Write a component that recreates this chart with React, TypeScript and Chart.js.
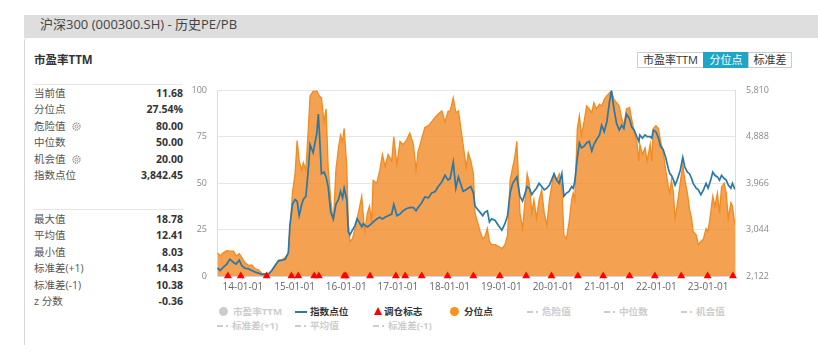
import React, { useEffect, useRef } from 'react';
import { Chart, registerables } from 'chart.js';

Chart.register(...registerables);

const FONT = '"Open Sans", "Noto Sans CJK SC", sans-serif';

// ---- data (decimal years) ----
const dates = [
  2013.51, 2013.56, 2013.62, 2013.69, 2013.75, 2013.82, 2013.87, 2013.93, 2013.98,
  2014.04, 2014.11, 2014.17, 2014.24, 2014.30, 2014.36, 2014.43, 2014.49, 2014.56, 2014.62, 2014.69, 2014.75, 2014.82, 2014.88, 2014.91, 2014.96,
  2015.01, 2015.05, 2015.09, 2015.14, 2015.17, 2015.22, 2015.27, 2015.30, 2015.36, 2015.43, 2015.46, 2015.48, 2015.52, 2015.57, 2015.61, 2015.65, 2015.70, 2015.75, 2015.80, 2015.85, 2015.89, 2015.93, 2015.96,
  2016.01, 2016.04, 2016.07, 2016.12, 2016.17, 2016.21, 2016.25, 2016.30, 2016.33, 2016.36, 2016.41, 2016.45, 2016.49, 2016.52, 2016.59, 2016.65, 2016.70, 2016.75, 2016.81, 2016.88, 2016.92, 2016.98,
  2017.04, 2017.10, 2017.17, 2017.23, 2017.30, 2017.35, 2017.39, 2017.46, 2017.52, 2017.59, 2017.65, 2017.72, 2017.78, 2017.85, 2017.91, 2017.97,
  2018.01, 2018.07, 2018.12, 2018.17, 2018.21, 2018.26, 2018.32, 2018.36, 2018.41, 2018.46, 2018.49, 2018.54, 2018.59, 2018.64, 2018.68, 2018.73, 2018.77, 2018.81, 2018.88, 2018.94,
  2019.01, 2019.07, 2019.12, 2019.17, 2019.22, 2019.26, 2019.30, 2019.33, 2019.36, 2019.41, 2019.46, 2019.50, 2019.54, 2019.59, 2019.63, 2019.68, 2019.73, 2019.78, 2019.83, 2019.88, 2019.93, 2019.97,
  2020.02, 2020.07, 2020.12, 2020.17, 2020.21, 2020.26, 2020.31, 2020.36, 2020.39, 2020.42, 2020.47, 2020.51, 2020.55, 2020.60, 2020.65, 2020.70, 2020.75, 2020.79, 2020.84, 2020.90, 2020.94, 2020.99,
  2021.04, 2021.09, 2021.13, 2021.18, 2021.23, 2021.28, 2021.33, 2021.37, 2021.42, 2021.48, 2021.52, 2021.57, 2021.62, 2021.66, 2021.68, 2021.73, 2021.78, 2021.82, 2021.88, 2021.91, 2021.94, 2021.99,
  2022.04, 2022.08, 2022.13, 2022.18, 2022.23, 2022.26, 2022.29, 2022.33, 2022.36, 2022.40, 2022.46, 2022.51, 2022.55, 2022.60, 2022.64, 2022.68, 2022.71, 2022.77, 2022.81, 2022.86, 2022.91, 2022.96,
  2023.00, 2023.05, 2023.09, 2023.13, 2023.18, 2023.22, 2023.26, 2023.31, 2023.35, 2023.39, 2023.44, 2023.47, 2023.52,
];

// 分位点 (%)
const percentile = [
  12.5, 10.8, 12.5, 13.7, 13.4, 13.4, 10.8, 12.0, 9.9,
  7.3, 5.6, 6.0, 3.8, 3.3, 1.6, 1.2, 1.2, 3.0, 5.6, 8.5, 8.5, 10.0, 12.5, 24, 45,
  55, 73, 62, 57, 61, 57, 81, 97, 99.5, 100, 98, 97, 96, 83, 90, 59, 41, 29, 57, 69, 76, 72.5, 79.5,
  59, 29, 18.6, 20, 25.6, 31, 36, 43, 32.5, 24, 34, 37.7, 29, 51.6, 50, 57, 65.5, 59, 65.5, 62, 75, 60,
  72.5, 70.8, 73.4, 77, 70.8, 57, 67, 74, 80, 81, 83, 85.6, 87.3, 89, 83, 88.7,
  89, 96, 88, 89, 81, 71, 58.6, 66.4, 62, 55, 34, 29, 24, 20, 21, 25.6, 18.6, 16.9, 16.9, 16,
  14.8, 16.9, 22, 51.6, 58.6, 64, 72.5, 53.4, 34, 25.6, 41, 55, 50, 34, 41, 31, 41, 46.4, 34, 27.3, 41, 48,
  55, 51.6, 55, 48, 22, 20, 29, 41, 44.7, 41, 79.5, 86.4, 76, 83, 91.6, 90, 88, 93.4, 90, 92.5, 91.6, 95,
  97, 98.6, 99.5, 95, 93.4, 91.6, 84.7, 81, 90, 90.8, 84.7, 77.7, 72.5, 62, 71, 65.5, 69, 62, 71, 62, 79.5, 81,
  79.5, 72.5, 67, 57, 48, 44.7, 51.6, 44.7, 31, 37.7, 50, 60, 51.6, 44.7, 36, 31, 24, 22, 16.9, 18.6, 20, 25.6,
  24, 34, 43, 37.7, 44.7, 34, 48, 50, 44.7, 31, 39.5, 37.7, 27.5,
];

// 指数点位
const indexPoints = [
  2282, 2231, 2295, 2359, 2456, 2391, 2359, 2436, 2327,
  2276, 2263, 2231, 2199, 2180, 2154, 2154, 2148, 2231, 2327, 2424, 2436, 2456, 2584, 3129, 3546,
  3642, 3610, 3321, 3546, 3642, 3706, 4283, 4733, 4572, 4957, 5342, 4989, 4155, 4187, 4091, 3899, 3386, 3257, 3546, 3642, 3803, 3674, 3867,
  3642, 3001, 2937, 3033, 3129, 3257, 3193, 3097, 3161, 3129, 3097, 3129, 3161, 3193, 3257, 3289, 3257, 3289, 3321, 3353, 3546, 3321,
  3353, 3418, 3462, 3482, 3482, 3418, 3482, 3578, 3693, 3674, 3770, 3802, 3899, 3995, 4123, 4027,
  4059, 4380, 3867, 4091, 3963, 3803, 3835, 3867, 3899, 3770, 3514, 3450, 3386, 3321, 3386, 3418, 3193, 3257, 3225, 3129,
  3033, 3161, 3321, 3770, 3963, 4027, 4091, 3899, 3706, 3610, 3770, 3899, 3867, 3738, 3803, 3867, 3963, 3899, 3835, 3867, 3931, 4027,
  4155, 4027, 3963, 4155, 3706, 3770, 3803, 3899, 3867, 3995, 4476, 4765, 4668, 4700, 4765, 4797, 4604, 4733, 4829, 4925, 5117, 4989,
  5181, 5566, 5810, 5438, 5149, 5021, 5117, 5053, 5342, 5245, 5085, 5021, 4893, 4797, 4925, 4861, 4925, 4893, 4893, 4861, 5021, 4989,
  4861, 4700, 4636, 4476, 4252, 4155, 4123, 4027, 3931, 4027, 4219, 4476, 4283, 4187, 4155, 4059, 3963, 3867, 3835, 3738, 3835, 3963,
  3867, 4027, 4187, 4123, 4091, 4027, 4123, 4059, 4027, 3931, 3867, 3963, 3842,
];

// 调仓标志
const rebalanceDates = [
  2013.71, 2013.96, 2014.46, 2014.94, 2015.07, 2015.38, 2015.47, 2015.96, 2015.99,
  2016.46, 2016.96, 2017.14, 2017.46, 2017.96, 2018.46, 2018.97, 2019.48, 2019.97,
  2020.48, 2020.97, 2021.48, 2021.97, 2022.48, 2022.99, 2023.48,
];

const yearTicks = [2014, 2015, 2016, 2017, 2018, 2019, 2020, 2021, 2022, 2023];
const leftTicks = [0, 25, 50, 75, 100];
const rightTicks = [2122, 3044, 3966, 4888, 5810];

const statsTop: [string, string, boolean][] = [
  ['当前值', '11.68', false],
  ['分位点', '27.54%', false],
  ['危险值', '80.00', true],
  ['中位数', '50.00', false],
  ['机会值', '20.00', true],
  ['指数点位', '3,842.45', false],
];
const statsBottom: [string, string][] = [
  ['最大值', '18.78'],
  ['平均值', '12.41'],
  ['最小值', '8.03'],
  ['标准差(+1)', '14.43'],
  ['标准差(-1)', '10.38'],
  ['z 分数', '-0.36'],
];

function PEChart() {
  const ref = useRef<HTMLCanvasElement | null>(null);
  useEffect(() => {
    Chart.defaults.font.family = FONT;
    const chart = new Chart(ref.current as HTMLCanvasElement, {
      type: 'line',
      data: {
        datasets: [
          {
            label: '调仓标志',
            data: rebalanceDates.map((d) => ({ x: d, y: 0 })),
            yAxisID: 'y',
            showLine: false,
            pointStyle: 'triangle',
            pointRadius: 4.6,
            backgroundColor: '#ff0000',
            borderColor: '#ff0000',
            borderWidth: 0,
            clip: false as any,
            order: 0,
          },
          {
            label: '指数点位',
            data: dates.map((d, i) => ({ x: d, y: indexPoints[i] })),
            yAxisID: 'yR',
            borderColor: '#2a78a8',
            borderWidth: 1.7,
            pointRadius: 0,
            fill: false,
            tension: 0,
            order: 1,
          },
          {
            label: '分位点',
            data: dates.map((d, i) => ({ x: d, y: percentile[i] })),
            yAxisID: 'y',
            borderColor: '#f28a1e',
            backgroundColor: 'rgba(241,135,32,0.78)',
            borderWidth: 1.3,
            pointRadius: 0,
            fill: 'origin',
            tension: 0,
            order: 2,
          },
        ],
      },
      options: {
        animation: false,
        responsive: false,
        maintainAspectRatio: false,
        layout: { padding: { top: 10, left: 0, right: 0, bottom: 0 } },
        plugins: { legend: { display: false }, tooltip: { enabled: false } },
        scales: {
          x: {
            type: 'linear',
            min: 2013.5,
            max: 2023.52,
            afterBuildTicks: (axis: any) => {
              axis.ticks = yearTicks.map((v) => ({ value: v }));
            },
            ticks: {
              autoSkip: false,
              maxRotation: 0,
              padding: 1,
              color: '#666',
              font: { size: 10, family: FONT },
              callback: (v: any) => `${String(v).slice(2)}-01-01`,
            },
            grid: { drawOnChartArea: false, drawTicks: true, tickLength: 4, color: '#ccd6eb' },
            border: { color: '#ccd6eb' },
            afterFit: (s: any) => {
              s.height = 22;
            },
          },
          y: {
            position: 'left',
            min: 0,
            max: 100,
            afterBuildTicks: (axis: any) => {
              axis.ticks = leftTicks.map((v) => ({ value: v }));
            },
            ticks: { padding: 10, color: '#888', font: { size: 9, family: FONT } },
            grid: { color: '#e6e6e6', drawTicks: false },
            border: { color: '#d8dee8' },
            afterFit: (s: any) => {
              s.width = 32;
            },
          },
          yR: {
            position: 'right',
            min: 2122,
            max: 5810,
            afterBuildTicks: (axis: any) => {
              axis.ticks = rightTicks.map((v) => ({ value: v }));
            },
            ticks: {
              padding: 11,
              color: '#888',
              font: { size: 9, family: FONT },
              callback: (v: any) => Number(v).toLocaleString('en-US'),
            },
            grid: { display: false, drawTicks: false },
            border: { color: '#d8dee8' },
            afterFit: (s: any) => {
              s.width = 50;
            },
          },
        },
      },
    } as any);
    return () => chart.destroy();
  }, []);
  return (
    <canvas
      ref={ref}
      width={600}
      height={224}
      style={{ position: 'absolute', left: 185, top: 74, width: 600, height: 224 }}
    />
  );
}

function Gear() {
  return (
    <svg width="9" height="9" viewBox="0 0 10 10" style={{ marginLeft: 6, verticalAlign: '-1px' }}>
      <circle cx="5" cy="5" r="3.9" fill="none" stroke="#888" strokeWidth="1.5" strokeDasharray="1.3 0.9" />
      <circle cx="5" cy="5" r="1.6" fill="none" stroke="#888" strokeWidth="0.9" />
    </svg>
  );
}

function StatRow({ top, label, value, gear }: { top: number; label: string; value: string; gear?: boolean }) {
  return (
    <div style={{ position: 'absolute', left: 34, top, width: 149, height: 16, lineHeight: '16px', fontSize: 10.5, whiteSpace: 'nowrap' }}>
      <span style={{ color: '#555' }}>{label}</span>
      {gear ? <Gear /> : null}
      <span style={{ position: 'absolute', right: 0, top: 0, fontWeight: 700, color: '#333' }}>{value}</span>
    </div>
  );
}

type LegendKind = 'circle' | 'line' | 'triangle' | 'dash';
function LegendItem({ x, y, kind, color, text, active }: { x: number; y: number; kind: LegendKind; color: string; text: string; active: boolean }) {
  let marker: React.ReactNode = null;
  let textX = x + 16;
  if (kind === 'circle') {
    marker = <div style={{ position: 'absolute', left: x + 2, top: y - 4.5, width: 9, height: 9, borderRadius: '50%', background: color }} />;
  } else if (kind === 'line') {
    marker = <div style={{ position: 'absolute', left: x, top: y - 1, width: 12, height: 2, background: color }} />;
    textX = x + 15;
  } else if (kind === 'triangle') {
    marker = (
      <div style={{ position: 'absolute', left: x + 2, top: y - 4.5, width: 0, height: 0, borderLeft: '4px solid transparent', borderRight: '4px solid transparent', borderBottom: `8px solid ${color}` }} />
    );
    textX = x + 12;
  } else {
    marker = (
      <>
        <div style={{ position: 'absolute', left: x, top: y - 1, width: 6, height: 2, background: color }} />
        <div style={{ position: 'absolute', left: x + 9, top: y - 1, width: 2, height: 2, background: color }} />
      </>
    );
    textX = x + 15;
  }
  return (
    <>
      {marker}
      <div
        style={{
          position: 'absolute',
          left: textX,
          top: y - 7,
          height: 14,
          lineHeight: '14px',
          fontSize: 9.6,
          fontWeight: 700,
          color: active ? '#333' : '#ccc',
          whiteSpace: 'nowrap',
        }}
      >
        {text}
      </div>
    </>
  );
}

export default function App() {
  useEffect(() => {
    document.body.style.margin = '0';
  }, []);
  const btnBase: React.CSSProperties = {
    position: 'absolute',
    top: 52,
    height: 16,
    lineHeight: '14px',
    fontSize: 11,
    textAlign: 'center',
    boxSizing: 'border-box',
    border: '1px solid #ccc',
    color: '#333',
    background: '#fff',
    whiteSpace: 'nowrap',
  };
  return (
    <div style={{ position: 'absolute', left: 0, top: 0, width: 818, height: 357, overflow: 'hidden', background: '#fff', fontFamily: FONT }}>
      <div style={{ position: 'absolute', left: 24, top: 15, width: 800, height: 23, background: '#dedede' }} />
      <div style={{ position: 'absolute', left: 40, top: 15, height: 19, lineHeight: '19px', fontSize: 13, color: '#444', whiteSpace: 'nowrap' }}>
        沪深300 (000300.SH) - 历史PE/PB
      </div>
      <div
        style={{
          position: 'absolute',
          left: 24,
          top: 38,
          width: 800,
          height: 307,
          background: '#fff',
          borderLeft: '1px solid #d6d6d6',
          borderTopLeftRadius: 3,
        }}
      />
      <div style={{ position: 'absolute', left: 34, top: 52, height: 16, lineHeight: '16px', fontSize: 11.5, fontWeight: 700, color: '#333' }}>市盈率TTM</div>

      <div style={{ position: 'absolute', left: 33, top: 84, width: 150, height: 1, background: '#e6e6e6' }} />
      {statsTop.map(([l, v, g], i) => (
        <StatRow key={l} top={85 + i * 16.4} label={l} value={v} gear={g} />
      ))}
      <div style={{ position: 'absolute', left: 33, top: 209, width: 150, height: 1, background: '#e6e6e6' }} />
      {statsBottom.map(([l, v], i) => (
        <StatRow key={l} top={211 + i * 16.4} label={l} value={v} />
      ))}

      <div style={{ ...btnBase, left: 637, width: 67 }}>市盈率TTM</div>
      <div style={{ ...btnBase, left: 703, width: 46, background: '#1ea6c9', border: '1px solid #1ea6c9', color: '#fff' }}>分位点</div>
      <div style={{ ...btnBase, left: 748, width: 44 }}>标准差</div>

      <PEChart />

      <LegendItem x={217} y={311.5} kind="circle" color="#ccc" text="市盈率TTM" active={false} />
      <LegendItem x={295} y={311.5} kind="line" color="#2a78a8" text="指数点位" active={true} />
      <LegendItem x={372} y={311.5} kind="triangle" color="#ff0000" text="调仓标志" active={true} />
      <LegendItem x={448} y={311.5} kind="circle" color="#f7931e" text="分位点" active={true} />
      <LegendItem x={527} y={311.5} kind="dash" color="#ccc" text="危险值" active={false} />
      <LegendItem x={604} y={311.5} kind="dash" color="#ccc" text="中位数" active={false} />
      <LegendItem x={681} y={311.5} kind="dash" color="#ccc" text="机会值" active={false} />
      <LegendItem x={217} y={325.5} kind="dash" color="#ccc" text="标准差(+1)" active={false} />
      <LegendItem x={295} y={325.5} kind="dash" color="#ccc" text="平均值" active={false} />
      <LegendItem x={373} y={325.5} kind="dash" color="#ccc" text="标准差(-1)" active={false} />
    </div>
  );
}
